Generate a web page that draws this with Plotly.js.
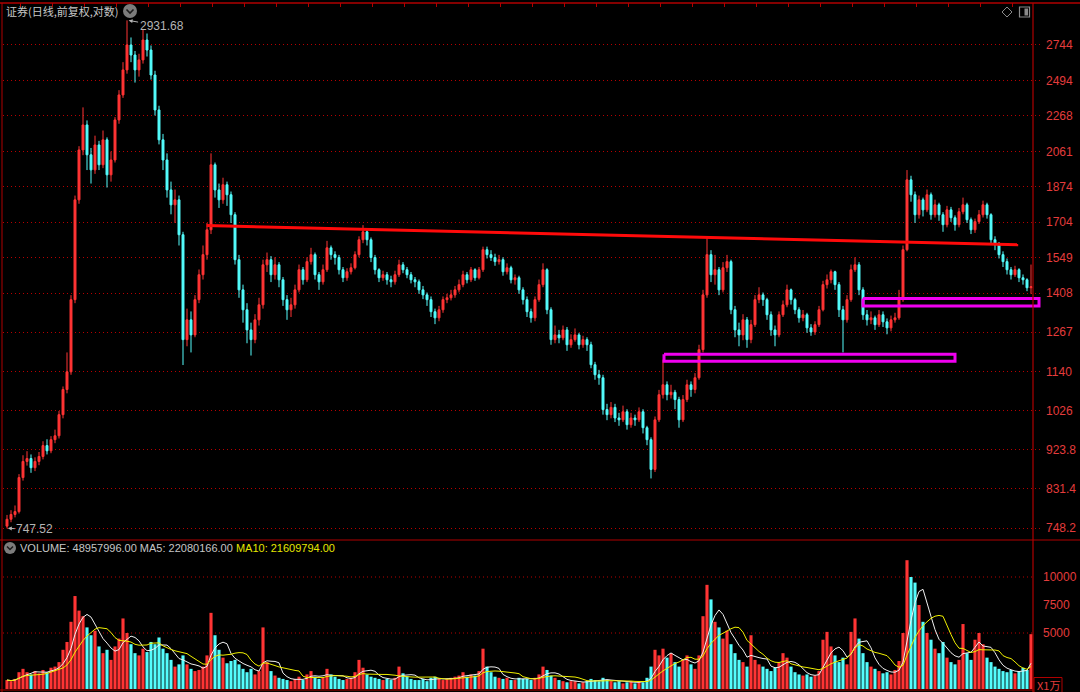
<!DOCTYPE html>
<html><head><meta charset="utf-8">
<script src="https://cdn.plot.ly/plotly-3.0.1.min.js"></script>
<style>html,body{margin:0;padding:0;background:#000;overflow:hidden}#chart{width:1080px;height:692px}</style>
</head><body><div id="chart"></div>
<script>
// ---------------- data ----------------
const firstOpen = 752;
const closePrices = [766,776,782,857,895,902,880,895,907,934,
921,949,959,1015,1086,1139,1383,1809,2069,2213,
2042,1961,2097,1988,2126,1935,2014,2243,2399,2566,
2744,2671,2566,2636,2781,2707,2531,2304,2126,2014,
1858,1785,1809,1647,1242,1310,1258,1383,1479,1561,
1669,1988,1858,1809,1884,1834,1738,1540,1420,1346,
1275,1242,1310,1364,1519,1540,1479,1519,1459,1383,
1346,1364,1420,1499,1459,1532,1561,1479,1451,1499,
1590,1561,1549,1499,1467,1491,1507,1561,1625,1660,
1625,1549,1499,1467,1479,1459,1451,1479,1519,1499,
1479,1459,1451,1420,1401,1383,1339,1317,1346,1383,
1390,1401,1420,1440,1479,1459,1499,1467,1499,1582,
1561,1549,1532,1540,1491,1507,1459,1467,1420,1383,
1339,1317,1383,1440,1499,1346,1242,1258,1248,1275,
1225,1242,1258,1225,1242,1225,1161,1130,1121,1029,
1015,1035,1006,1001,1023,988,1006,1001,1023,980,
949,876,1001,1071,1100,1071,1078,1057,1001,1057,
1100,1086,1121,1209,1401,1561,1479,1499,1420,1507,
1532,1346,1275,1258,1310,1242,1293,1383,1401,1383,
1328,1275,1258,1328,1364,1420,1383,1346,1317,1328,
1282,1268,1293,1346,1440,1459,1491,1440,1346,1310,
1383,1499,1519,1420,1328,1310,1317,1293,1328,1303,
1282,1310,1317,1383,1582,1909,1834,1738,1809,1761,
1834,1738,1785,1738,1692,1761,1724,1692,1752,1785,
1715,1669,1706,1738,1785,1738,1625,1603,1561,1532,
1499,1479,1499,1467,1459,1428,1432];
const highPrices = [775,785,795,865,910,920,912,905,918,945,
950,958,975,1025,1095,1200,1400,1830,2090,2320,
2240,2080,2150,2120,2180,2140,2060,2260,2430,2620,
2931.68,2800,2700,2680,2860,2830,2740,2560,2330,2160,
2050,1900,1860,1830,1660,1350,1340,1400,1500,1600,
1700,2050,2000,1890,1920,1900,1850,1750,1560,1440,
1370,1300,1330,1390,1540,1570,1555,1550,1530,1470,
1400,1390,1440,1520,1510,1550,1590,1570,1490,1520,
1620,1600,1575,1560,1510,1505,1525,1575,1640,1690,
1675,1635,1560,1505,1495,1490,1475,1495,1540,1530,
1510,1490,1470,1460,1435,1410,1395,1350,1360,1395,
1405,1420,1435,1460,1495,1490,1510,1505,1510,1595,
1595,1580,1565,1560,1550,1525,1515,1480,1475,1430,
1395,1350,1395,1460,1525,1505,1355,1290,1275,1290,
1285,1260,1280,1265,1255,1250,1235,1170,1145,1130,
1045,1050,1045,1020,1040,1030,1020,1015,1035,1030,
985,955,1010,1085,1177,1110,1100,1085,1065,1070,
1115,1110,1135,1225,1420,1640,1580,1560,1510,1530,
1560,1540,1360,1300,1330,1320,1310,1400,1430,1410,
1390,1340,1290,1340,1380,1440,1425,1390,1355,1345,
1335,1295,1305,1360,1455,1480,1500,1495,1450,1360,
1400,1520,1550,1530,1430,1345,1340,1325,1345,1340,
1315,1325,1335,1420,1600,1960,1930,1850,1830,1820,
1860,1845,1810,1795,1750,1780,1775,1735,1770,1820,
1795,1725,1720,1760,1805,1795,1745,1640,1615,1575,
1545,1510,1515,1505,1480,1465,1520];
const lowPrices = [747.52,760,770,778,850,885,868,872,886,900,
912,915,940,952,1005,1075,1130,1370,1790,2040,
1960,1890,1940,1960,1970,1870,1900,2000,2220,2380,
2540,2620,2480,2520,2610,2660,2500,2270,2100,1960,
1820,1740,1700,1600,1160,1220,1200,1250,1370,1460,
1540,1650,1820,1770,1790,1780,1700,1520,1390,1300,
1230,1190,1230,1290,1350,1490,1450,1460,1430,1360,
1310,1320,1350,1410,1440,1450,1520,1460,1420,1440,
1490,1540,1520,1480,1450,1455,1480,1500,1550,1610,
1600,1530,1480,1450,1455,1440,1430,1440,1470,1485,
1465,1445,1430,1405,1385,1360,1320,1295,1305,1335,
1370,1380,1390,1410,1430,1445,1450,1455,1460,1490,
1545,1535,1515,1520,1475,1480,1445,1440,1405,1365,
1320,1300,1305,1375,1430,1330,1225,1230,1230,1240,
1205,1215,1235,1210,1215,1205,1150,1115,1100,1015,
1000,1005,995,985,995,975,980,985,995,965,
935,855,870,995,1060,1055,1060,1030,980,995,
1050,1065,1075,1115,1200,1390,1450,1440,1400,1410,
1490,1330,1250,1220,1240,1215,1230,1285,1370,1360,
1310,1255,1220,1250,1320,1355,1365,1330,1300,1305,
1265,1255,1258,1285,1340,1425,1445,1420,1320,1200,
1300,1375,1490,1400,1310,1290,1295,1275,1285,1285,
1260,1270,1300,1310,1375,1575,1800,1700,1720,1730,
1750,1715,1725,1710,1660,1680,1705,1665,1680,1740,
1700,1650,1655,1695,1725,1720,1610,1580,1545,1510,
1480,1460,1470,1450,1440,1415,1405];
// volume in 万
const volumes = [800,700,900,1500,
1800,1500,1300,1600,1400,1700,1500,1900,2000,2400,
3500,4200,
6000,8300,7000,
6500,5500,4800,5200,
3800,3200,3500,2600,
3800,4500,6300,5000,
4000,3200,3000,3600,3300,
4200,4000,4600,3600,3200,
2600,2000,2200,3000,
2200,1800,1600,1700,2000,
3000,6800,4800,
3500,2800,2300,2500,2600,2200,1800,
1500,1800,1300,1600,
5500,
2400,1600,1200,1000,900,
800,700,900,1100,800,1300,1600,1100,900,1000,
1800,1300,1100,900,
800,900,1000,1500,2600,1900,1300,1100,
1000,900,800,900,800,1000,
2000,1400,1100,900,
800,800,900,700,1000,1100,900,
800,900,1000,1100,1200,1500,1100,1300,1200,1600,
3600,
2000,1500,1100,1000,900,1000,800,800,1000,
900,900,800,1000,1300,2000,
1700,1200,1000,800,700,600,700,700,500,600,700,900,800,700,
1000,800,700,600,700,500,600,700,500,700,600,1000,
2000,
3500,3000,3600,2800,3200,2400,2000,2600,3000,2200,1800,
3000,6500,9300,8000,
6000,5500,4500,5200,4000,
3200,2600,2400,2000,4800,2600,2200,
2000,1800,1600,1900,2400,3200,2800,2000,1500,1300,
1200,1300,1100,1200,1600,
4400,5100,3800,3000,
2400,2800,2200,
5100,6300,4500,
3200,2400,2000,1800,1600,1400,1500,1300,1700,2500,
5000,11500,
10000,9500,7500,6000,
5000,4400,3600,3200,4200,
2800,2400,2200,2600,
5800,
3200,2600,4400,5000,4000,
2800,2400,2000,1800,1600,1500,1700,1400,1600,1900,1700,
4896];
const priceTicks = [748.2,831.4,923.8,1026,1140,1267,1408,1549,1704,1874,2061,2268,2494,2744];
const priceTickText = ['748.2','831.4','923.8','1026','1140','1267','1408','1549','1704','1874','2061','2268','2494','2744'];
const volTicks = [5000,7500,10000];
const volTickText = ['5000','7500','10000'];
const volGridLevels = [5000,10000];
// drawn annotations (index / price coordinates)
const trendX = [49.9, 252.8], trendY = [1688, 1603];
const box1X = [164.25, 237], box1Y = [1194, 1172];
const box2X = [214, 258], box2Y = [1387, 1360];
const peakIndex = 30.4, peakValue = 2931.68;
const lowIndex = 0.2, lowValue = 747.52;
const titleText = '证券(日线,前复权,对数)';
const volName = 'VOLUME: 48957996.00', ma5Text = 'MA5: 22080166.00', ma10Text = 'MA10: 21609794.00';

// ---------------- checks & derived ----------------
const n = closePrices.length;
[highPrices, lowPrices, volumes].forEach((a, k) => { if (a.length !== n) throw new Error('length mismatch ' + k + ': ' + a.length + ' vs ' + n); });
const idx = closePrices.map((_, i) => i);
const openPrices = closePrices.map((c, i) => i === 0 ? firstOpen : closePrices[i - 1]);
const RED = '#ff3434', CYAN = '#54fcfc', AXIS = '#b00000', GRID = '#b80000';
const volColors = closePrices.map((c, i) => c >= openPrices[i] ? RED : CYAN);
function movingAvg(arr, k) {
  return arr.map((_, i) => { const s = arr.slice(Math.max(0, i - k + 1), i + 1); return s.reduce((a, b) => a + b, 0) / s.length; });
}
const ma5 = movingAvg(volumes, 5), ma10 = movingAvg(volumes, 10);

// ---------------- layout geometry ----------------
const W = 1080, H = 692, ML = 3, MR = 39, MT = 3, MB = 2;
const PW = W - ML - MR, PH = H - MT - MB;
const px = p => (p - ML) / PW;
const py = p => (H - MB - p) / PH;

const traces = [
  { type: 'candlestick', x: idx, open: openPrices, high: highPrices, low: lowPrices, close: closePrices,
    xaxis: 'x', yaxis: 'y', whiskerwidth: 0, hoverinfo: 'skip', showlegend: false,
    increasing: { line: { color: RED, width: 1 }, fillcolor: RED },
    decreasing: { line: { color: CYAN, width: 1 }, fillcolor: CYAN } },
  { type: 'bar', x: idx, y: volumes, xaxis: 'x', yaxis: 'y2', marker: { color: volColors, line: { width: 0 } }, hoverinfo: 'skip', showlegend: false },
  { type: 'scatter', mode: 'lines', x: idx, y: ma5, xaxis: 'x', yaxis: 'y2', line: { color: '#f0f0f0', width: 1 }, hoverinfo: 'skip', showlegend: false },
  { type: 'scatter', mode: 'lines', x: idx, y: ma10, xaxis: 'x', yaxis: 'y2', line: { color: '#f0f000', width: 1 }, hoverinfo: 'skip', showlegend: false },
  { type: 'scatter', mode: 'lines', x: trendX, y: trendY, xaxis: 'x', yaxis: 'y', line: { color: '#ff0a0a', width: 3 }, hoverinfo: 'skip', showlegend: false },
  { type: 'scatter', mode: 'lines', x: [box1X[0], box1X[1], box1X[1], box1X[0], box1X[0]], y: [box1Y[0], box1Y[0], box1Y[1], box1Y[1], box1Y[0]],
    xaxis: 'x', yaxis: 'y', line: { color: '#f000f0', width: 3 }, hoverinfo: 'skip', showlegend: false },
  { type: 'scatter', mode: 'lines', x: [box2X[0], box2X[1], box2X[1], box2X[0], box2X[0]], y: [box2Y[0], box2Y[0], box2Y[1], box2Y[1], box2Y[0]],
    xaxis: 'x', yaxis: 'y', line: { color: '#f000f0', width: 3 }, hoverinfo: 'skip', showlegend: false }
];

const tickFont = { family: 'Liberation Sans, Arial, sans-serif', size: 12, color: '#e43c3c' };
const shapes = [
  // borders
  { type: 'line', xref: 'paper', yref: 'paper', x0: -0.01, x1: 1.05, y0: py(3), y1: py(3), line: { color: AXIS, width: 1.5 } },
  { type: 'line', xref: 'paper', yref: 'paper', x0: px(2), x1: px(2), y0: -0.01, y1: py(3), line: { color: AXIS, width: 1 } },
  { type: 'line', xref: 'paper', yref: 'paper', x0: px(1033), x1: px(1033), y0: -0.01, y1: py(3), line: { color: AXIS, width: 1.2 } },
  { type: 'line', xref: 'paper', yref: 'paper', x0: -0.01, x1: 1.05, y0: py(540), y1: py(540), line: { color: AXIS, width: 1.2 } },
  { type: 'line', xref: 'paper', yref: 'paper', x0: -0.01, x1: px(1033), y0: py(690), y1: py(690), line: { color: AXIS, width: 1 } },
  // title chevron icon
  { type: 'circle', xref: 'paper', yref: 'paper', x0: px(123), x1: px(137), y0: py(18), y1: py(4), fillcolor: '#7c7c7c', line: { width: 0 } },
  { type: 'path', xref: 'paper', yref: 'paper', path: `M ${px(126.5)},${py(9.5)} L ${px(130)},${py(13)} L ${px(133.5)},${py(9.5)}`, line: { color: '#1c1c1c', width: 1.6 } },
  // volume header icon
  { type: 'circle', xref: 'paper', yref: 'paper', x0: px(4), x1: px(16), y0: py(554), y1: py(542), fillcolor: '#7c7c7c', line: { width: 0 } },
  { type: 'path', xref: 'paper', yref: 'paper', path: `M ${px(7)},${py(546.5)} L ${px(10)},${py(549.5)} L ${px(13)},${py(546.5)}`, line: { color: '#1c1c1c', width: 1.5 } },
  // top-right icons
  { type: 'path', xref: 'paper', yref: 'paper', path: `M ${px(1002)},${py(12)} L ${px(1007)},${py(7)} L ${px(1012)},${py(12)} L ${px(1007)},${py(17)} Z`, line: { color: '#8a8a8a', width: 1 } },
  { type: 'rect', xref: 'paper', yref: 'paper', x0: px(1019.5), x1: px(1029.5), y0: py(17), y1: py(7), line: { color: '#8a8a8a', width: 1.2 } },
  { type: 'rect', xref: 'paper', yref: 'paper', x0: px(1024.5), x1: px(1028), y0: py(15.5), y1: py(8.5), fillcolor: '#8a8a8a', line: { width: 0 } },
  // "X1万" box
  { type: 'rect', xref: 'paper', yref: 'paper', x0: px(1034), x1: px(1062), y0: py(693), y1: py(677.5), line: { color: AXIS, width: 1 } }
];
volGridLevels.forEach(v => shapes.push({ type: 'line', xref: 'paper', yref: 'y2', x0: 0, x1: px(1033), y0: v, y1: v, layer: 'below', line: { color: GRID, width: 1, dash: '1px,3px' } }));

const annotations = [
  { xref: 'paper', yref: 'paper', x: px(4), y: py(11), xanchor: 'left', yanchor: 'middle', showarrow: false, text: titleText,
    font: { family: 'Noto Sans CJK SC, sans-serif', size: 11, color: '#c6c6c6' } },
  { xref: 'paper', yref: 'paper', x: px(18), y: py(548), xanchor: 'left', yanchor: 'middle', showarrow: false,
    text: `<span style="color:#c6c6c6">${volName} ${ma5Text}</span> <span style="color:#e6e600">${ma10Text}</span>`,
    font: { family: 'Liberation Sans, Arial, sans-serif', size: 11, color: '#c6c6c6' } },
  { xref: 'x', yref: 'y', x: peakIndex, y: Math.log10(peakValue), text: peakValue.toFixed(2), showarrow: true, ax: 33, ay: 6,
    arrowhead: 2, arrowsize: 0.8, arrowwidth: 1, arrowcolor: '#b4b4b4', font: { family: 'Liberation Sans, Arial, sans-serif', size: 12, color: '#b4b4b4' } },
  { xref: 'x', yref: 'y', x: lowIndex, y: Math.log10(lowValue), text: lowValue.toFixed(2), showarrow: true, ax: 27, ay: 1,
    arrowhead: 2, arrowsize: 0.8, arrowwidth: 1, arrowcolor: '#b4b4b4', font: { family: 'Liberation Sans, Arial, sans-serif', size: 12, color: '#b4b4b4' } },
  { xref: 'paper', yref: 'paper', x: px(1048), y: py(684.5), xanchor: 'center', yanchor: 'middle', showarrow: false, text: 'X1万',
    borderpad: 0, font: { family: 'Noto Sans CJK SC, sans-serif', size: 11, color: '#e43c3c' } }
];

const layout = {
  width: W, height: H, margin: { l: ML, r: MR, t: MT, b: MB, pad: 0 },
  paper_bgcolor: '#000', plot_bgcolor: '#000', showlegend: false, bargap: 0.22, hovermode: false,
  xaxis: { domain: [0, 1], range: [-1, 258.5], anchor: 'y', side: 'top', showgrid: false, zeroline: false, showline: false,
    ticks: 'inside', ticklen: 4, tickcolor: AXIS, tick0: 3.25, dtick: 8, showticklabels: false, rangeslider: { visible: false }, fixedrange: true },
  yaxis: { type: 'log', domain: [py(540), 1], range: [Math.log10(724.5), Math.log10(3072)], side: 'right', anchor: 'x',
    tickmode: 'array', tickvals: priceTicks, ticktext: priceTickText, showgrid: true, gridcolor: GRID, griddash: '1px,3px', gridwidth: 1,
    ticks: '', showline: false, zeroline: false, tickfont: tickFont, ticklabelstandoff: 4, fixedrange: true },
  yaxis2: { domain: [0, py(558)], range: [-89, 11696], side: 'right', anchor: 'x', tickmode: 'array', tickvals: volTicks, ticktext: volTickText,
    showgrid: false, ticks: '', showline: false, zeroline: false, tickfont: tickFont, ticklabelstandoff: 1, fixedrange: true },
  shapes: shapes, annotations: annotations
};

Plotly.newPlot('chart', traces, layout, { displayModeBar: false, staticPlot: true });
</script></body></html>
